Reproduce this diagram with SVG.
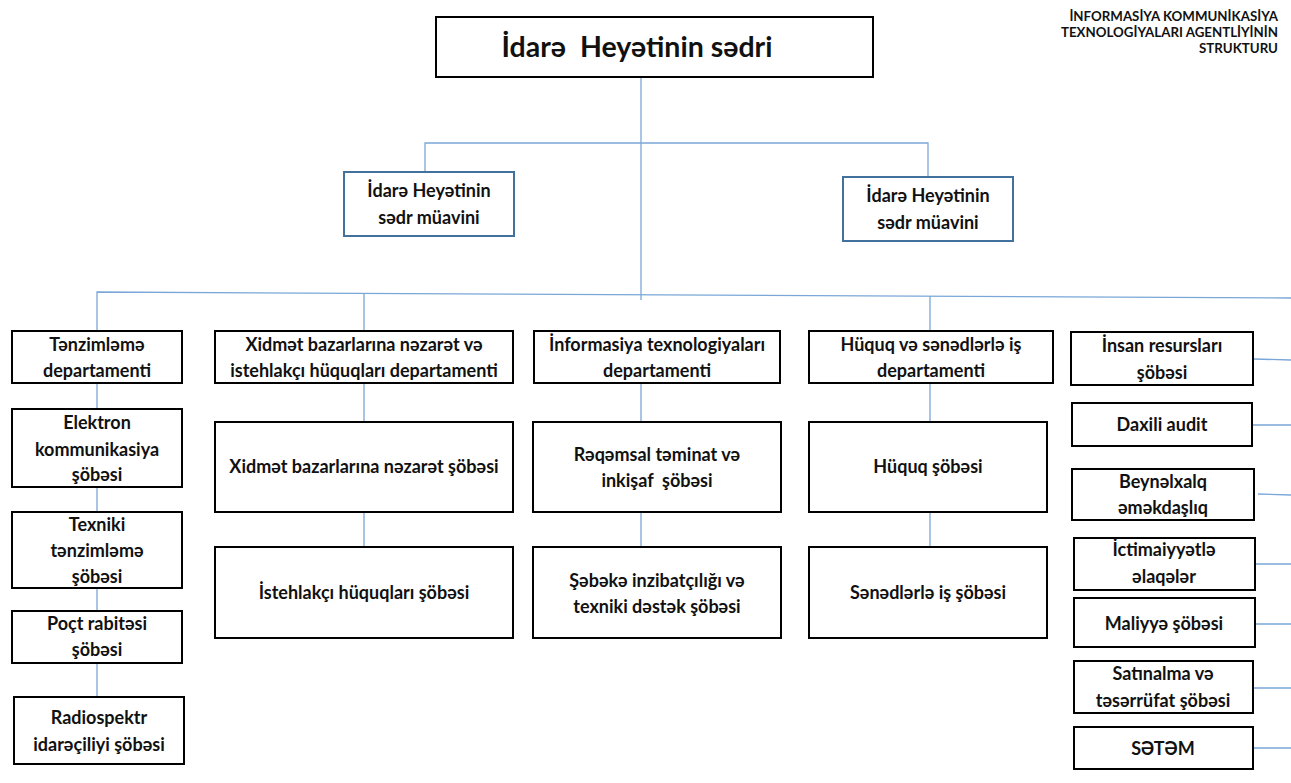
<svg xmlns="http://www.w3.org/2000/svg" width="1291" height="783" viewBox="0 0 1291 783">
<style>
.b{fill:#fff;stroke:#000;stroke-width:2}
.v{fill:#fff;stroke:#41719c;stroke-width:2}
.c{stroke:#7aa7d8;stroke-width:1.3;fill:none}
text{font-family:Lato,"Open Sans","Liberation Sans",sans-serif;font-weight:700;fill:#111;text-anchor:middle;font-size:18px}
.t{font-size:28.5px;white-space:pre}
.h{font-size:13.3px;text-anchor:end}
</style>
<rect width="1291" height="783" fill="#fff"/>
<g id="connectors">
<path class="c" d="M641 77V300"/>
<path class="c" d="M425 173V143H928V178"/>
<path class="c" d="M97 331V292L1291 298"/>
<path class="c" d="M364 293V331M930 296V331"/>
<path class="c" d="M97 383V697M364 383V422M364 512V547M641 383V422M641 512V547M930 383V422M930 512V547"/>
<path class="c" d="M1253 359L1291 360M1252 425H1291M1258 494L1291 495M1255 564H1291M1255 624H1291M1253 688H1291M1253 748H1291"/>
</g>
<g id="title"><text class="h" x="1278" y="21">İNFORMASİYA KOMMUNİKASİYA</text><text class="h" x="1278" y="37">TEXNOLOGİYALARI AGENTLİYİNİN</text><text class="h" x="1278" y="53">STRUKTURU</text></g>
<g id="sedr"><rect class="b" x="436" y="17" width="437" height="60"/><text class="t" x="637" y="57" xml:space="preserve">İdarə  Heyətinin sədri</text></g>
<g id="muavin1"><rect class="v" x="344" y="172" width="170" height="64"/><text x="429" y="197">İdarə Heyətinin</text><text x="429" y="224">sədr müavini</text></g>
<g id="muavin2"><rect class="v" x="843" y="177" width="170" height="64"/><text x="928" y="202">İdarə Heyətinin</text><text x="928" y="229">sədr müavini</text></g>
<g id="tenzimleme"><rect class="b" x="12" y="331" width="170" height="52"/><text x="97" y="351">Tənzimləmə</text><text x="97" y="377">departamenti</text></g>
<g id="xidmet"><rect class="b" x="215" y="331" width="298" height="52"/><text x="364" y="351">Xidmət bazarlarına nəzarət və</text><text x="364" y="377">istehlakçı hüquqları departamenti</text></g>
<g id="informasiya"><rect class="b" x="534" y="331" width="246" height="52"/><text x="657" y="351">İnformasiya texnologiyaları</text><text x="657" y="377">departamenti</text></g>
<g id="huquq"><rect class="b" x="809" y="331" width="244" height="52"/><text x="931" y="351">Hüquq və sənədlərlə iş</text><text x="931" y="377">departamenti</text></g>
<g id="elektron"><rect class="b" x="12" y="409" width="170" height="78"/><text x="97" y="429">Elektron</text><text x="97" y="456">kommunikasiya</text><text x="97" y="481">şöbəsi</text></g>
<g id="texniki"><rect class="b" x="12" y="512" width="170" height="76"/><text x="97" y="531">Texniki</text><text x="97" y="557">tənzimləmə</text><text x="97" y="583">şöbəsi</text></g>
<g id="poct"><rect class="b" x="12" y="611" width="170" height="52"/><text x="97" y="630">Poçt rabitəsi</text><text x="97" y="656">şöbəsi</text></g>
<g id="radio"><rect class="b" x="14" y="697" width="170" height="67"/><text x="99" y="724">Radiospektr</text><text x="99" y="751">idarəçiliyi şöbəsi</text></g>
<g id="xidmet-sobe"><rect class="b" x="215" y="422" width="298" height="90"/><text x="364" y="473">Xidmət bazarlarına nəzarət şöbəsi</text></g>
<g id="istehlakci"><rect class="b" x="215" y="547" width="298" height="91"/><text x="364" y="599">İstehlakçı hüquqları şöbəsi</text></g>
<g id="reqemsal"><rect class="b" x="533" y="422" width="248" height="90"/><text x="657" y="461">Rəqəmsal təminat və</text><text x="657" y="487" xml:space="preserve">inkişaf  şöbəsi</text></g>
<g id="sebeke"><rect class="b" x="533" y="547" width="248" height="91"/><text x="657" y="587">Şəbəkə inzibatçılığı və</text><text x="657" y="613">texniki dəstək şöbəsi</text></g>
<g id="huquq-sobe"><rect class="b" x="809" y="422" width="238" height="90"/><text x="928" y="473">Hüquq şöbəsi</text></g>
<g id="senedler"><rect class="b" x="809" y="547" width="238" height="91"/><text x="928" y="599">Sənədlərlə iş şöbəsi</text></g>
<g id="insan"><rect class="b" x="1071" y="332" width="182" height="53"/><text x="1162" y="352">İnsan resursları</text><text x="1162" y="379">şöbəsi</text></g>
<g id="audit"><rect class="b" x="1072" y="403" width="180" height="43"/><text x="1162" y="431">Daxili audit</text></g>
<g id="beynelxalq"><rect class="b" x="1072" y="469" width="182" height="51"/><text x="1163" y="488">Beynəlxalq</text><text x="1163" y="514">əməkdaşlıq</text></g>
<g id="ictimaiyyet"><rect class="b" x="1074" y="538" width="181" height="52"/><text x="1164" y="556">İctimaiyyətlə</text><text x="1164" y="583">əlaqələr</text></g>
<g id="maliyye"><rect class="b" x="1074" y="598" width="181" height="49"/><text x="1164" y="630">Maliyyə şöbəsi</text></g>
<g id="satinalma"><rect class="b" x="1074" y="661" width="179" height="52"/><text x="1163" y="680">Satınalma və</text><text x="1163" y="707">təsərrüfat şöbəsi</text></g>
<g id="setem"><rect class="b" x="1074" y="727" width="179" height="42"/><text x="1163" y="755">SƏTƏM</text></g>
</svg>
